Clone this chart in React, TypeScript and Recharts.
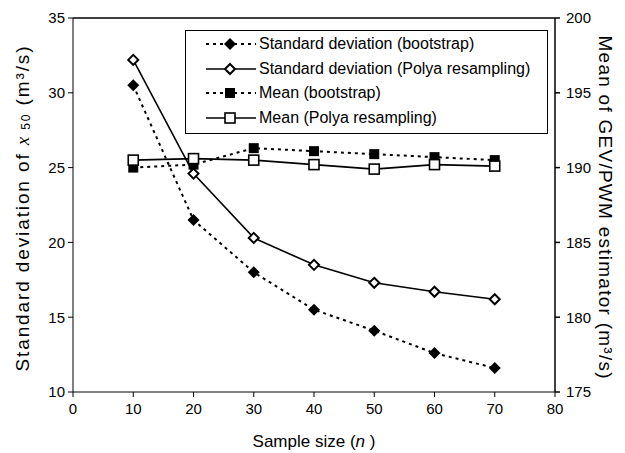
import React from 'react';
import { ComposedChart, Line, XAxis, YAxis, ReferenceLine } from 'recharts';

// values
const sampleSizes = [10, 20, 30, 40, 50, 60, 70];
const sdBootstrap = [30.5, 21.5, 18.0, 15.5, 14.1, 12.6, 11.6];
const sdPolya = [32.2, 24.6, 20.3, 18.5, 17.3, 16.7, 16.2];
const meanBootstrap = [190.0, 190.2, 191.3, 191.1, 190.9, 190.7, 190.5];
const meanPolya = [190.5, 190.6, 190.5, 190.2, 189.9, 190.2, 190.1];

const xTicks = [0, 10, 20, 30, 40, 50, 60, 70, 80];
const leftTicks = [10, 15, 20, 25, 30, 35];
const rightTicks = [175, 180, 185, 190, 195, 200];

const legendLabels = [
    'Standard deviation (bootstrap)',
    'Standard deviation (Polya resampling)',
    'Mean (bootstrap)',
    'Mean (Polya resampling)'
];

const data = sampleSizes.map((n, i) => ({
    n,
    sdBoot: sdBootstrap[i],
    sdPolya: sdPolya[i],
    meanBoot: meanBootstrap[i],
    meanPolya: meanPolya[i]
}));

const FONT = '"Liberation Sans", Arial, sans-serif';
const tickStyle = { fill: '#000', fontSize: 15, fontFamily: FONT };

// marker shapes
const FilledDiamond = ({ cx, cy }: any) => (
    <path d={`M${cx},${cy - 6}L${cx + 6},${cy}L${cx},${cy + 6}L${cx - 6},${cy}Z`} fill="#000" />
);
const OpenDiamond = ({ cx, cy }: any) => (
    <path
        d={`M${cx},${cy - 5}L${cx + 5},${cy}L${cx},${cy + 5}L${cx - 5},${cy}Z`}
        fill="#fff"
        stroke="#000"
        strokeWidth={2}
    />
);
const FilledSquare = ({ cx, cy }: any) => (
    <rect x={cx - 5} y={cy - 5} width={10} height={10} fill="#000" />
);
const OpenSquare = ({ cx, cy }: any) => (
    <rect x={cx - 5} y={cy - 5} width={10} height={10} fill="#fff" stroke="#000" strokeWidth={1.6} />
);

const markers = [FilledDiamond, OpenDiamond, FilledSquare, OpenSquare];
const dashed = [true, false, true, false];

// legend box sits inside the plot area, drawn over the chart
const LegendBox = () => (
    <div
        style={{
            position: 'absolute',
            left: 185,
            top: 30,
            border: '1px solid #000',
            width: 363,
            height: 104,
            boxSizing: 'border-box',
            padding: '1px 0 0 0',
            fontFamily: FONT,
            fontSize: 16,
            background: '#fff'
        }}
    >
        {legendLabels.map((label, i) => {
            const Marker = markers[i];
            return (
                <div key={label} style={{ display: 'flex', alignItems: 'center', height: 24.5 }}>
                    <svg width={72} height={20} style={{ display: 'block' }}>
                        <line
                            x1={20}
                            y1={10}
                            x2={70}
                            y2={10}
                            stroke="#000"
                            strokeWidth={dashed[i] ? 2 : 1.5}
                            strokeDasharray={dashed[i] ? '3 4' : undefined}
                        />
                        <Marker cx={44} cy={10} />
                    </svg>
                    <span style={{ marginLeft: 1 }}>{label}</span>
                </div>
            );
        })}
    </div>
);

const LeftLabel = ({ viewBox }: any) => {
    const x = viewBox.x + 22;
    const y = viewBox.y + viewBox.height / 2 + 4;
    return (
        <text
            x={x}
            y={y}
            transform={`rotate(-90, ${x}, ${y})`}
            textAnchor="middle"
            dominantBaseline="central"
            textLength={325}
            lengthAdjust="spacing"
            style={{ fontFamily: FONT, fontSize: 19 }}
            fill="#000"
        >
            Standard deviation of{' '}
            <tspan fontStyle="italic" fontFamily='"Liberation Serif", serif'>x</tspan>
            <tspan fontSize={12} dy={4}> 50</tspan>
            <tspan dy={-4}> (m³/s)</tspan>
        </text>
    );
};

const RightLabel = ({ viewBox }: any) => {
    const x = viewBox.x + 50;
    const y = viewBox.y + viewBox.height / 2 + 2;
    return (
        <text
            x={x}
            y={y}
            transform={`rotate(90, ${x}, ${y})`}
            textAnchor="middle"
            dominantBaseline="central"
            textLength={343}
            lengthAdjust="spacing"
            style={{ fontFamily: FONT, fontSize: 19 }}
            fill="#000"
        >
            Mean of GEV/PWM estimator (m³/s)
        </text>
    );
};

const BottomLabel = ({ viewBox }: any) => {
    const x = viewBox.x + viewBox.width / 2;
    const y = viewBox.y + 49;
    return (
        <text
            x={x}
            y={y}
            textAnchor="middle"
            dominantBaseline="central"
            style={{ fontFamily: FONT, fontSize: 17 }}
            fill="#000"
        >
            Sample size (<tspan fontStyle="italic">n</tspan> )
        </text>
    );
};

export default function App() {
    return (
        <div style={{ position: 'absolute', left: 0, top: 0, width: 625, height: 453, background: '#fff' }}>
            <ComposedChart
                width={625}
                height={453}
                data={data}
                margin={{ top: 18, right: 0, bottom: 0, left: 0 }}
            >
                <XAxis
                    dataKey="n"
                    type="number"
                    domain={[0, 80]}
                    ticks={xTicks}
                    height={61}
                    tick={tickStyle}
                    tickSize={5}
                    tickMargin={6}
                    stroke="#000"
                    label={<BottomLabel />}
                />
                <YAxis
                    yAxisId="left"
                    domain={[10, 35]}
                    ticks={leftTicks}
                    width={73}
                    tick={tickStyle}
                    tickSize={5}
                    tickMargin={3}
                    stroke="#000"
                    label={<LeftLabel />}
                />
                <YAxis
                    yAxisId="right"
                    orientation="right"
                    domain={[175, 200]}
                    ticks={rightTicks}
                    width={70}
                    tick={tickStyle}
                    tickSize={5}
                    tickMargin={6}
                    stroke="#000"
                    strokeWidth={1.5}
                    label={<RightLabel />}
                />
                <ReferenceLine yAxisId="left" y={35} stroke="#000" strokeWidth={1.5} />
                <Line
                    yAxisId="left"
                    dataKey="sdBoot"
                    stroke="#000"
                    strokeWidth={2}
                    strokeDasharray="3 4"
                    dot={<FilledDiamond />}
                    isAnimationActive={false}
                />
                <Line
                    yAxisId="left"
                    dataKey="sdPolya"
                    stroke="#000"
                    strokeWidth={1.6}
                    dot={<OpenDiamond />}
                    isAnimationActive={false}
                />
                <Line
                    yAxisId="right"
                    dataKey="meanBoot"
                    stroke="#000"
                    strokeWidth={2}
                    strokeDasharray="3 4"
                    dot={<FilledSquare />}
                    isAnimationActive={false}
                />
                <Line
                    yAxisId="right"
                    dataKey="meanPolya"
                    stroke="#000"
                    strokeWidth={1.6}
                    dot={<OpenSquare />}
                    isAnimationActive={false}
                />
            </ComposedChart>
            <LegendBox />
        </div>
    );
}
